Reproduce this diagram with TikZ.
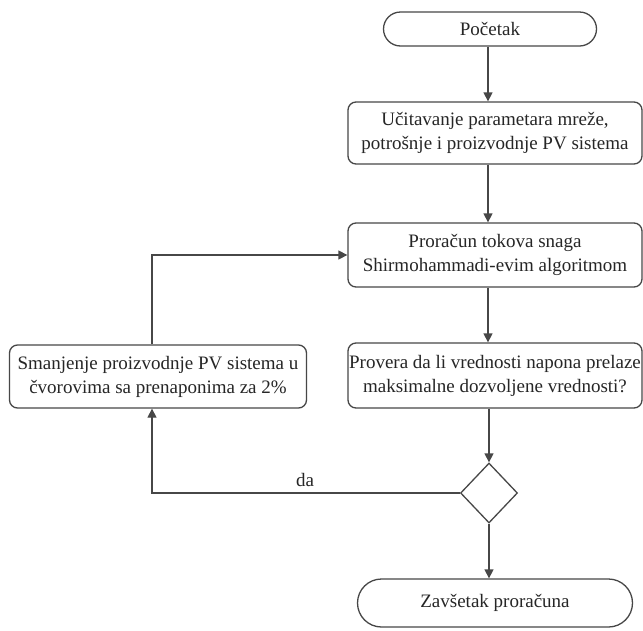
\documentclass[tikz,border=0pt]{standalone}
\usepackage{fontspec}
\setmainfont{Liberation Serif}
\usetikzlibrary{arrows.meta,shapes.geometric,shapes.misc}
\begin{document}
\begin{tikzpicture}[x=1pt,y=-1pt,
  line width=1.3pt,
  lc/.style={draw=black!72},
  txt/.style={font=\fontsize{19}{24}\selectfont, text=black!85},
  procbox/.style={lc, txt, rectangle, rounded corners=8pt, align=center, inner sep=0pt, fill=white},
  term/.style={lc, txt, rounded rectangle, inner sep=0pt, fill=white},
  decis/.style={lc, diamond, inner sep=0pt, fill=white},
  arr/.style={lc, -{Triangle[length=9pt,width=9pt]}}
]
\useasboundingbox (0,0) rectangle (643,630);
\fill[white] (0,0) rectangle (643,630);

\coordinate (tx) at (488,0);
\coordinate (lx) at (152,0);

\node[term, minimum width=213pt, minimum height=34pt] (start) at (490,29) {Početak};
\node[procbox, minimum width=294pt, minimum height=62pt] (b1) at (495,133) {Učitavanje parametara mreže,\\potrošnje i proizvodnje PV sistema};
\node[procbox, minimum width=294pt, minimum height=64pt] (b2) at (495,255) {Proračun tokova snaga\\Shirmohammadi-evim algoritmom};
\node[procbox, minimum width=294pt, minimum height=65pt] (b3) at (495,375.5) {Provera da li vrednosti napona prelaze\\maksimalne dozvoljene vrednosti?};
\node[procbox, minimum width=297pt, minimum height=63pt] (sm) at (158,376.5) {Smanjenje proizvodnje PV sistema u\\čvorovima sa prenaponima za 2\%};
\node[decis, minimum width=57pt, minimum height=60pt] (d) at (489,493) {};
\node[term, minimum width=275pt, minimum height=48pt] (end) at (495,603) {Zavšetak proračuna};

\draw[arr] (start.south -| tx) -- (b1.north -| tx);
\draw[arr] (b1.south -| tx) -- (b2.north -| tx);
\draw[arr] (b2.south -| tx) -- (b3.north -| tx);
\draw[arr] (b3.south -| d.north) -- (d.north);
\draw[arr] (d.south) -- (end.north -| d.south);
\draw[arr] (d.west) -- (d.west -| lx) -- (sm.south -| lx);
\draw[arr] (sm.north -| lx) |- (b2.west);

\node[txt, anchor=south] (da) at (305,491) {da};
\end{tikzpicture}
\end{document}
